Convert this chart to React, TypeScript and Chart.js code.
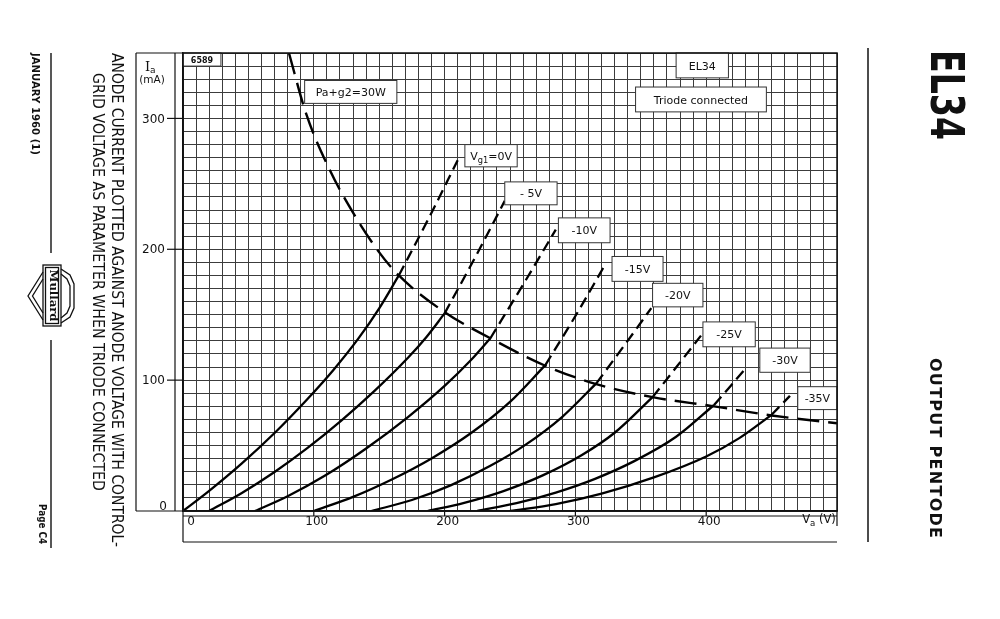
import React, { useEffect, useRef } from "react";
import { Chart, registerables } from "chart.js";

Chart.register(...registerables);

type P = [number, number];

// ---- axis ticks ----
const X_TICKS = [0, 100, 200, 300, 400];
const Y_TICKS = [0, 100, 200, 300];

// ---- anode current (mA) vs anode voltage (V), triode connected ----
const vg0Solid: P[] = [[0, 0], [20, 15.4], [45, 36.4], [70, 59.6], [95, 85.4], [115, 107.8], [134, 131.7], [150, 154.9], [165, 180]];
const vg0Dash: P[] = [[165, 180], [188, 224], [210, 268]];
const vg5Solid: P[] = [[20, 0], [45, 13.8], [70, 29.8], [95, 48], [121, 69.1], [146, 91.4], [172, 117.1], [186, 132.8], [200, 151]];
const vg5Dash: P[] = [[200, 151], [224, 195], [246, 237]];
const vg10Solid: P[] = [[55, 0], [80, 11.3], [108, 26.7], [140, 47.8], [172, 71.8], [200, 95.6], [220, 115.2], [235, 132]];
const vg10Dash: P[] = [[235, 132], [260, 173], [285, 215]];
const vg15Solid: P[] = [[100, 0], [130, 10.8], [160, 24.3], [190, 40.2], [220, 59.4], [250, 83.4], [277, 111.5]];
const vg15Dash: P[] = [[277, 111.5], [300, 149], [322, 187]];
const vg20Solid: P[] = [[144, 0], [175, 8.4], [205, 19.8], [235, 34.5], [262, 50.7], [290, 72], [316, 97.5]];
const vg20Dash: P[] = [[316, 97.5], [337, 126], [358, 155]];
const vg25Solid: P[] = [[187, 0], [215, 6.2], [245, 15.2], [275, 27.2], [305, 42.8], [330, 59.8], [359, 87]];
const vg25Dash: P[] = [[359, 87], [378, 111], [396, 134]];
const vg30Solid: P[] = [[225, 0], [255, 6], [285, 14.1], [315, 24.6], [345, 38.1], [377, 56.7], [406, 81]];
const vg30Dash: P[] = [[406, 81], [419, 96], [431, 110]];
const vg35Solid: P[] = [[250, 0], [285, 5.3], [320, 13.3], [360, 25.7], [400, 41.7], [425, 55.5], [450, 73.5]];
const vg35Dash: P[] = [[450, 73.5], [464, 88]];
// Pa+g2 = 30 W dissipation limit
const paLimit: P[] = [[81, 350], [94, 304], [112, 261], [130, 228], [149, 199], [165, 180], [200, 152], [235, 132], [277, 111], [316, 97], [359, 87], [406, 80], [450, 73], [500, 67]];

const SOLID = [vg0Solid, vg5Solid, vg10Solid, vg15Solid, vg20Solid, vg25Solid, vg30Solid, vg35Solid];
const DASHED = [vg0Dash, vg5Dash, vg10Dash, vg15Dash, vg20Dash, vg25Dash, vg30Dash, vg35Dash];

type Part = { t: string; sub?: boolean };
// label boxes inside the plot (data-space extents)
const BOXES: { parts: Part[]; v0: number; v1: number; i0: number; i1: number; size: number; bold?: boolean }[] = [
  { parts: [{ t: "6589" }], v0: 0, v1: 29, i0: 340, i1: 350, size: 8, bold: true },
  { parts: [{ t: "EL34" }], v0: 377, v1: 417, i0: 331, i1: 350, size: 11 },
  { parts: [{ t: "Triode connected" }], v0: 346, v1: 446, i0: 305, i1: 324, size: 11 },
  { parts: [{ t: "Pa+g2=30W" }], v0: 93, v1: 163.5, i0: 311.5, i1: 329, size: 11 },
  { parts: [{ t: "V" }, { t: "g1", sub: true }, { t: "=0V" }], v0: 215.5, v1: 255.5, i0: 263, i1: 280, size: 11 },
  { parts: [{ t: "- 5V" }], v0: 246, v1: 286, i0: 234, i1: 251.5, size: 11 },
  { parts: [{ t: "-10V" }], v0: 287, v1: 326.5, i0: 205, i1: 224, size: 11 },
  { parts: [{ t: "-15V" }], v0: 328, v1: 367, i0: 175.5, i1: 194.5, size: 11 },
  { parts: [{ t: "-20V" }], v0: 359, v1: 397.5, i0: 156, i1: 174, size: 11 },
  { parts: [{ t: "-25V" }], v0: 397.5, v1: 437.5, i0: 125.5, i1: 144.5, size: 11 },
  { parts: [{ t: "-30V" }], v0: 441, v1: 479.5, i0: 106, i1: 124.5, size: 11 },
  { parts: [{ t: "-35V" }], v0: 470, v1: 500, i0: 77.5, i1: 95, size: 11 },
];

const FAM = '"DejaVu Sans", sans-serif';

function drawRich(ctx: CanvasRenderingContext2D, parts: Part[], x: number, y: number, size: number, weight = "") {
  let total = 0;
  const ws = parts.map((p) => {
    ctx.font = `${weight} ${p.sub ? size * 0.75 : size}px ${FAM}`;
    const w = ctx.measureText(p.t).width;
    total += w;
    return w;
  });
  let cx = x - total / 2;
  ctx.textAlign = "left";
  ctx.textBaseline = "alphabetic";
  parts.forEach((p, i) => {
    ctx.font = `${weight} ${p.sub ? size * 0.75 : size}px ${FAM}`;
    ctx.fillText(p.t, cx, y + (p.sub ? size * 0.3 : 0));
    cx += ws[i];
  });
}

function drawRot(ctx: CanvasRenderingContext2D, text: string, cx: number, cy: number, font: string, len?: number) {
  ctx.save();
  ctx.translate(cx, cy);
  ctx.rotate(Math.PI / 2);
  ctx.font = font;
  const w = ctx.measureText(text).width;
  if (len) ctx.scale(len / w, 1);
  ctx.textAlign = "center";
  ctx.textBaseline = "middle";
  ctx.fillStyle = "#111";
  ctx.fillText(text, 0, 0);
  ctx.restore();
}

function drawRotSpaced(ctx: CanvasRenderingContext2D, text: string, cx: number, cy: number, font: string, len: number) {
  ctx.save();
  ctx.translate(cx, cy);
  ctx.rotate(Math.PI / 2);
  ctx.font = font;
  const chars = text.split("");
  const ws = chars.map((c) => ctx.measureText(c).width);
  const nat = ws.reduce((a, b) => a + b, 0);
  const gap = (len - nat) / (chars.length - 1);
  let x = -len / 2;
  ctx.textAlign = "left";
  ctx.textBaseline = "middle";
  ctx.fillStyle = "#111";
  chars.forEach((c, i) => {
    ctx.fillText(c, x, 0);
    x += ws[i] + gap;
  });
  ctx.restore();
}

function line(ctx: CanvasRenderingContext2D, x0: number, y0: number, x1: number, y1: number) {
  ctx.beginPath();
  ctx.moveTo(x0, y0);
  ctx.lineTo(x1, y1);
  ctx.stroke();
}

const decoPlugin = {
  id: "deco",
  afterDatasetsDraw(chart: any) {
    const ctx: CanvasRenderingContext2D = chart.ctx;
    const xs = chart.scales.x;
    const ys = chart.scales.y;
    ctx.save();
    for (const b of BOXES) {
      const x0 = xs.getPixelForValue(b.v0);
      const x1 = xs.getPixelForValue(b.v1);
      const y0 = ys.getPixelForValue(b.i1);
      const y1 = ys.getPixelForValue(b.i0);
      ctx.fillStyle = "#fff";
      ctx.fillRect(x0, y0, x1 - x0, y1 - y0);
      ctx.strokeStyle = "#333";
      ctx.lineWidth = 1;
      ctx.strokeRect(x0, y0, x1 - x0, y1 - y0);
      ctx.fillStyle = "#111";
      drawRich(ctx, b.parts, (x0 + x1) / 2, (y0 + y1) / 2 + b.size * 0.37, b.size, b.bold ? "bold" : "");
    }
    ctx.restore();
  },
  afterDraw(chart: any) {
    const ctx: CanvasRenderingContext2D = chart.ctx;
    const xs = chart.scales.x;
    const ys = chart.scales.y;
    const { left, right, top, bottom } = chart.chartArea;
    ctx.save();
    ctx.strokeStyle = "#111";
    ctx.fillStyle = "#111";
    ctx.lineWidth = 1.5;
    ctx.strokeRect(left, top, right - left, bottom - top);
    ctx.lineWidth = 1.2;
    // left label box
    line(ctx, 136, top, 136, bottom);
    line(ctx, 136, top, left, top);
    line(ctx, 136, bottom, left, bottom);
    line(ctx, 175, top, 175, bottom);
    // y ticks and labels
    ctx.font = `12px ${FAM}`;
    ctx.textAlign = "right";
    ctx.textBaseline = "middle";
    for (const v of Y_TICKS) {
      const y = ys.getPixelForValue(v);
      if (v > 0) line(ctx, 167, y, left, y);
      ctx.fillText(String(v), v === 0 ? 167 : 165, v === 0 ? y - 4 : y + 1);
    }
    // Ia (mA)
    ctx.textAlign = "left";
    ctx.textBaseline = "alphabetic";
    ctx.font = `13px "DejaVu Serif", serif`;
    ctx.fillText("I", 145, 71);
    ctx.font = `9px ${FAM}`;
    ctx.fillText("a", 150, 73);
    ctx.font = `10.5px ${FAM}`;
    ctx.textAlign = "center";
    ctx.fillText("(mA)", 152, 83);
    // x ticks, label box
    for (const v of X_TICKS) {
      const x = xs.getPixelForValue(v);
      if (v > 0) line(ctx, x, bottom, x, 516);
      ctx.font = `12px ${FAM}`;
      ctx.textAlign = "center";
      ctx.textBaseline = "middle";
      ctx.fillText(String(v), x + (v === 0 ? 8 : 3), 522);
    }
    line(ctx, left, 516, right, 516);
    line(ctx, left, 542, right, 542);
    line(ctx, left, bottom, left, 542);
    line(ctx, right, bottom, right, 526);
    ctx.textBaseline = "alphabetic";
    drawRich(ctx, [{ t: "V" }, { t: "a", sub: true }, { t: " (V)" }], 819, 523, 11.5);
    // left margin texts
    drawRot(ctx, "ANODE CURRENT PLOTTED AGAINST ANODE VOLTAGE WITH CONTROL-", 116, 300, `15px ${FAM}`, 494);
    drawRot(ctx, "GRID VOLTAGE AS PARAMETER WHEN TRIODE CONNECTED", 97, 282, `15px ${FAM}`, 418);
    drawRot(ctx, "JANUARY 1960 (1)", 35, 104, `bold 10px ${FAM}`, 102);
    drawRot(ctx, "Page C4", 42, 524, `bold 10px ${FAM}`, 40);
    ctx.lineWidth = 1.4;
    line(ctx, 51, 53, 51, 253);
    line(ctx, 51, 340, 51, 548);
    // Mullard logo
    ctx.lineWidth = 1.3;
    ctx.strokeRect(43, 265, 18, 61);
    ctx.strokeRect(45.5, 267.5, 13, 56);
    ctx.beginPath();
    ctx.moveTo(43, 272); ctx.lineTo(28, 296); ctx.lineTo(43, 320);
    ctx.moveTo(43, 279); ctx.lineTo(32.5, 296); ctx.lineTo(43, 313);
    ctx.moveTo(61, 269); ctx.lineTo(70, 275); ctx.lineTo(74, 284); ctx.lineTo(74, 308); ctx.lineTo(70, 317); ctx.lineTo(61, 323);
    ctx.moveTo(61, 274); ctx.lineTo(67, 279); ctx.lineTo(70, 286); ctx.lineTo(70, 306); ctx.lineTo(67, 313); ctx.lineTo(61, 318);
    ctx.stroke();
    drawRot(ctx, "Mullard", 52.5, 295.5, `bold 11px "DejaVu Serif", serif`, 52);
    // right side
    ctx.lineWidth = 1.5;
    line(ctx, 868, 48, 868, 542);
    drawRot(ctx, "EL34", 943, 95, `bold 46px ${FAM}`, 90);
    drawRotSpaced(ctx, "OUTPUT PENTODE", 934, 448, `bold 16px ${FAM}`, 180);
    ctx.restore();
  },
};

export default function App() {
  const ref = useRef<HTMLCanvasElement | null>(null);
  useEffect(() => {
    if (!ref.current) return;
    const toXY = (pts: P[]) => pts.map(([x, y]) => ({ x, y }));
    const datasets: any[] = [];
    SOLID.forEach((pts) =>
      datasets.push({ data: toXY(pts), showLine: true, borderColor: "#000", borderWidth: 2.3, pointRadius: 0, cubicInterpolationMode: "monotone" })
    );
    DASHED.forEach((pts) =>
      datasets.push({ data: toXY(pts), showLine: true, borderColor: "#000", borderWidth: 2.3, pointRadius: 0, borderDash: [11, 6], cubicInterpolationMode: "monotone" })
    );
    datasets.push({ data: toXY(paLimit), showLine: true, borderColor: "#000", borderWidth: 2.4, pointRadius: 0, borderDash: [22, 9], cubicInterpolationMode: "monotone" });

    const chart = new Chart(ref.current, {
      type: "scatter",
      data: { datasets },
      options: {
        animation: false,
        responsive: false,
        layout: { padding: { left: 183, right: 163, top: 53, bottom: 108 } },
        plugins: { legend: { display: false }, tooltip: { enabled: false } },
        scales: {
          x: {
            type: "linear",
            min: 0,
            max: 500,
            ticks: { display: false, stepSize: 10, autoSkip: false, maxTicksLimit: 1000 },
            grid: { color: "#3c3c3c", lineWidth: 1, drawTicks: false },
            border: { display: true, color: "#111", width: 1.5 },
          },
          y: {
            type: "linear",
            min: 0,
            max: 350,
            ticks: { display: false, stepSize: 10, autoSkip: false, maxTicksLimit: 1000 },
            grid: { color: "#3c3c3c", lineWidth: 1, drawTicks: false },
            border: { display: true, color: "#111", width: 1.5 },
          },
        },
      },
      plugins: [decoPlugin],
    });
    return () => chart.destroy();
  }, []);
  return (
    <div style={{ position: "absolute", left: 0, top: 0, width: 1000, height: 619, background: "#fff" }}>
      <canvas ref={ref} width={1000} height={619} style={{ display: "block" }} />
    </div>
  );
}
